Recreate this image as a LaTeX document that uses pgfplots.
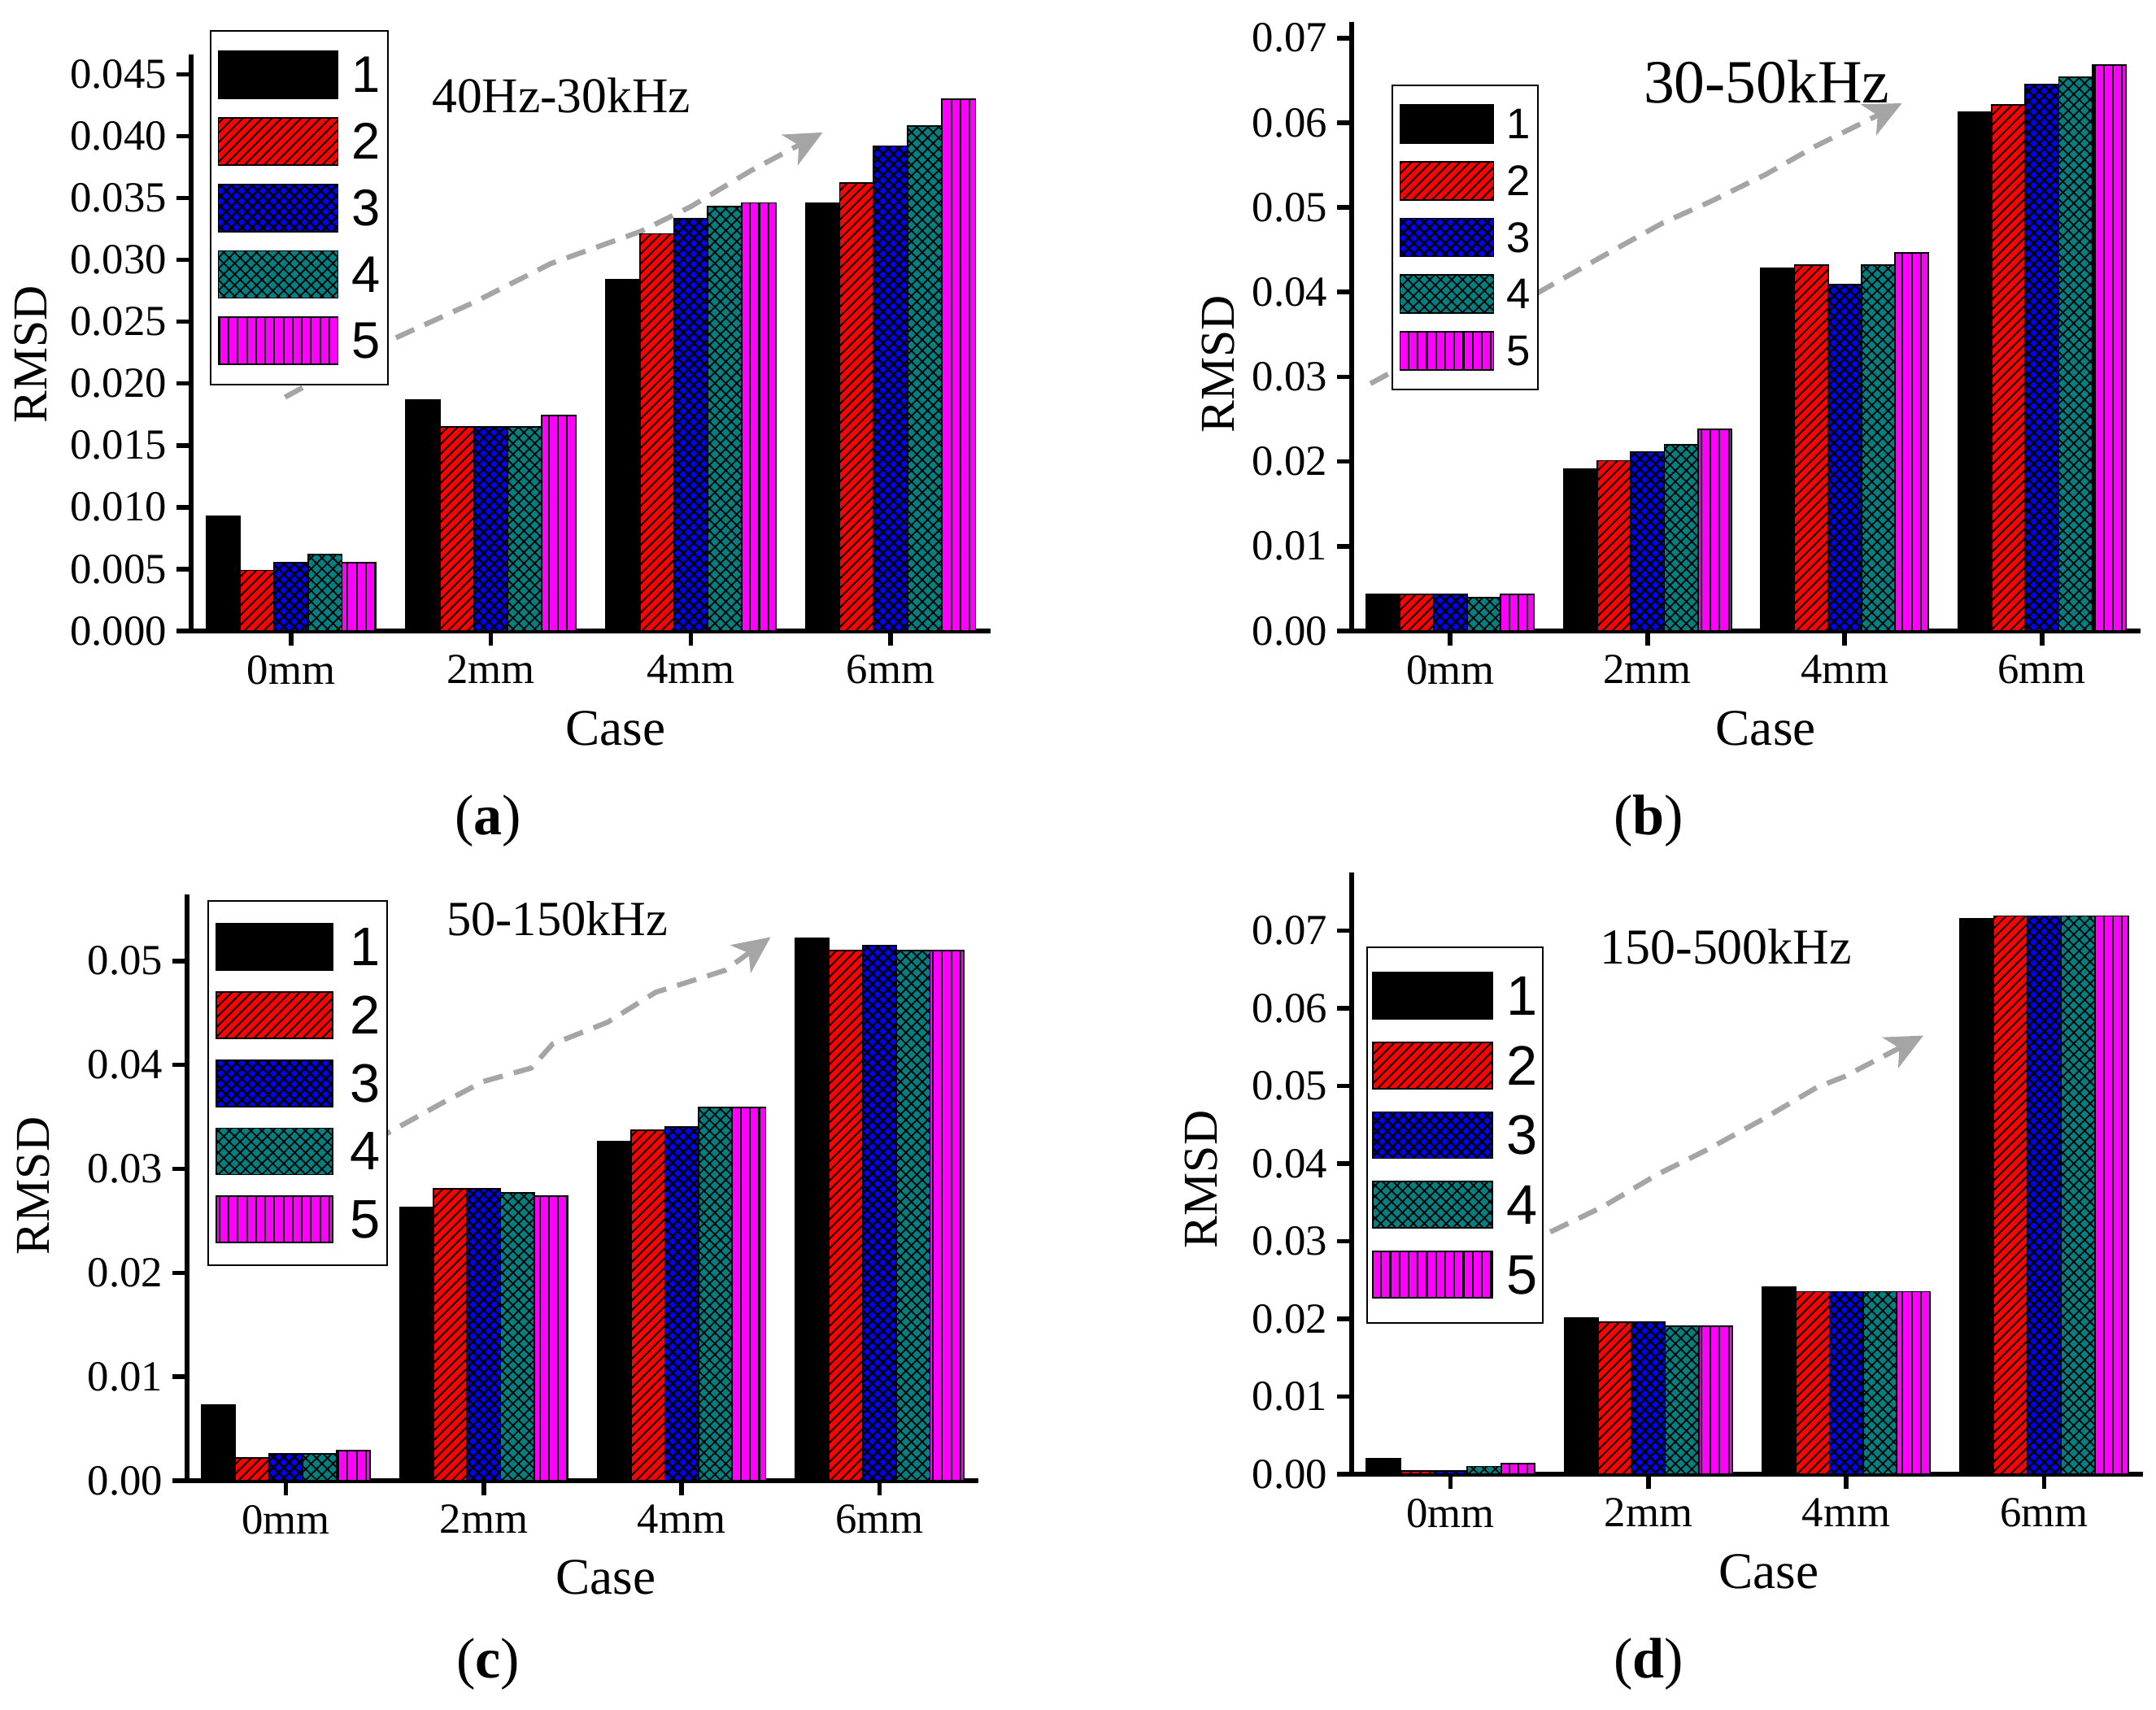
\documentclass[border=0pt]{standalone}
\usepackage{fontspec}
\setmainfont{Liberation Serif}
\newfontfamily\legfont{Liberation Sans}
\usepackage{pgfplots}
\pgfplotsset{compat=1.18}
\usepackage{pgfplotstable}
\usetikzlibrary{patterns.meta,arrows.meta}
\newcommand{\fs}[1]{\fontsize{#1}{#1}\selectfont}
\definecolor{teal4}{RGB}{0,128,128}
\definecolor{mag5}{RGB}{255,0,255}
\definecolor{red2}{RGB}{255,0,0}
\definecolor{blue3}{RGB}{0,0,255}
\definecolor{arrowgray}{RGB}{165,165,165}

\pgfplotstableread{
x s1 s2 s3 s4 s5
0 0.0093 0.0049 0.0055 0.0062 0.0055
1 0.0187 0.0165 0.0165 0.0165 0.0174
2 0.0284 0.0321 0.0333 0.0343 0.0346
3 0.0346 0.0362 0.0392 0.0408 0.0430
}\tabA
\pgfplotstableread{
x s1 s2 s3 s4 s5
0 0.0043 0.0043 0.0043 0.0039 0.0043
1 0.0191 0.0201 0.0211 0.0220 0.0238
2 0.0428 0.0432 0.0409 0.0432 0.0446
3 0.0613 0.0621 0.0645 0.0654 0.0668
}\tabB
\pgfplotstableread{
x s1 s2 s3 s4 s5
0 0.0073 0.0022 0.0026 0.0026 0.0029
1 0.0263 0.0281 0.0281 0.0277 0.0274
2 0.0326 0.0337 0.0340 0.0359 0.0359
3 0.0522 0.0510 0.0515 0.0510 0.0510
}\tabC
\pgfplotstableread{
x s1 s2 s3 s4 s5
0 0.0020 0.0004 0.0004 0.0010 0.0014
1 0.0201 0.0196 0.0196 0.0191 0.0191
2 0.0241 0.0235 0.0235 0.0235 0.0235
3 0.0715 0.0719 0.0719 0.0719 0.0719
}\tabD

\tikzset{
  trend/.style={arrowgray,line width=1.8pt,dash pattern=on 7pt off 4pt,
    -{Stealth[length=13pt,width=12pt,inset=3.5pt]}},
}
\pgfplotsset{
  rmsd/.style={
    scale only axis, ybar=0pt, bar width=0.17,
    xmin=-0.5, xmax=3.5, ymin=0, clip=false,
    axis lines=left, axis line style={line width=1.6pt,-},
    every tick/.style={line width=1.6pt,black},
    major tick length=5pt, tick align=outside,
    xtick={0,1,2,3}, xticklabels={0mm,2mm,4mm,6mm},
    ticklabel style={font=\fs{15}},
    scaled y ticks=false,
    /pgf/number format/assume math mode=true,
    yticklabel style={/pgf/number format/fixed,/pgf/number format/fixed zerofill},
    xlabel=Case, ylabel=RMSD,
    xlabel style={font=\fs{18},anchor=center},
    ylabel style={font=\fs{17},anchor=center},
    legend cell align=left,
  },
  s1/.style={fill=black,draw=black,line width=0.5pt},
  s2/.style={fill=red2,draw=black,line width=0.5pt,
    postaction={pattern={Lines[angle=45,distance=2.4pt,line width=0.55pt]}}},
  s3/.style={fill=blue3,draw=black,line width=0.5pt,
    postaction={pattern={Lines[angle=45,distance=2.6pt,line width=0.75pt]}},
    postaction={pattern={Lines[angle=-45,distance=2.6pt,line width=0.75pt]}}},
  s4/.style={fill=teal4,draw=black,line width=0.5pt,
    postaction={pattern={Lines[angle=45,distance=2.7pt,line width=0.5pt]}},
    postaction={pattern={Lines[angle=-45,distance=2.7pt,line width=0.5pt]}}},
  s5/.style={fill=mag5,draw=black,line width=0.5pt,
    postaction={pattern={Lines[angle=90,distance=3.2pt,line width=0.6pt]}}},
}

\begin{document}
\begin{tikzpicture}
\useasboundingbox (0,0) rectangle (26.51,21.02);

% (a)
\begin{axis}[rmsd, at={(2.35cm,13.26cm)}, anchor=south west,
  width=9.83cm, height=7.09cm, ymax=0.0466,
  ytick={0,0.005,...,0.045},
  yticklabel style={/pgf/number format/precision=3},
  xlabel style={at={(axis description cs:0.531,0)},yshift=-1.2cm},
  ylabel style={at={(axis description cs:-0.2004,0.48)}},
  legend image code/.code={\draw[#1] (0cm,-0.29cm) rectangle (1.47cm,0.29cm);},
  legend style={at={(0.023,1.042)},anchor=north west,draw=black,line width=0.6pt,fill=white,
    inner xsep=0.09cm,inner ysep=0.24cm,row sep=0.22cm,column sep=0.16cm,
    font=\legfont\fs{18},nodes={inner sep=0pt,text depth=0pt}},
]
\draw[trend] (axis cs:-0.03,0.0189) -- (axis cs:0.47,0.0233) -- (axis cs:0.92,0.0266) -- (axis cs:1.3,0.0297) -- (axis cs:1.75,0.0323) -- (axis cs:2.0,0.0343) -- (axis cs:2.3,0.0372) -- (axis cs:2.66,0.0403);
\addplot[s1] table[x=x,y=s1]{\tabA};
\addplot[s2] table[x=x,y=s2]{\tabA};
\addplot[s3] table[x=x,y=s3]{\tabA};
\addplot[s4] table[x=x,y=s4]{\tabA};
\addplot[s5] table[x=x,y=s5]{\tabA};
\legend{1,2,3,4,5}
\node[font=\fs{17.5}] at (rel axis cs:0.463,0.929) {40Hz-30kHz};
\end{axis}

% (b)
\begin{axis}[rmsd, at={(16.62cm,13.26cm)}, anchor=south west,
  width=9.70cm, height=7.49cm, ymax=0.0719,
  ytick={0,0.01,...,0.07},
  yticklabel style={/pgf/number format/precision=2},
  xlabel style={at={(axis description cs:0.525,0)},yshift=-1.2cm},
  ylabel style={at={(axis description cs:-0.169,0.438)}},
  legend image code/.code={\draw[#1] (0cm,-0.235cm) rectangle (1.15cm,0.235cm);},
  legend style={at={(0.05,0.897)},anchor=north west,draw=black,line width=0.6pt,fill=white,
    inner xsep=0.09cm,inner ysep=0.23cm,row sep=0.21cm,column sep=0.15cm,
    font=\legfont\fs{15},nodes={inner sep=0pt,text depth=0pt}},
]
\draw[trend] (axis cs:-0.405,0.0292) -- (axis cs:0.434,0.0398) -- (axis cs:0.80,0.0446) -- (axis cs:1.08,0.0482) -- (axis cs:1.32,0.0507) -- (axis cs:1.60,0.0539) -- (axis cs:1.85,0.0572) -- (axis cs:2.29,0.0623);
\addplot[s1] table[x=x,y=s1]{\tabB};
\addplot[s2] table[x=x,y=s2]{\tabB};
\addplot[s3] table[x=x,y=s3]{\tabB};
\addplot[s4] table[x=x,y=s4]{\tabB};
\addplot[s5] table[x=x,y=s5]{\tabB};
\legend{1,2,3,4,5}
\node[font=\fs{21.5}] at (rel axis cs:0.526,0.902) {30-50kHz};
\end{axis}

% (c)
\begin{axis}[rmsd, at={(2.30cm,2.81cm)}, anchor=south west,
  width=9.73cm, height=7.21cm, ymax=0.0564,
  ytick={0,0.01,...,0.05},
  yticklabel style={/pgf/number format/precision=2},
  xlabel style={at={(axis description cs:0.529,0)},yshift=-1.19cm},
  ylabel style={at={(axis description cs:-0.194,0.503)}},
  legend image code/.code={\draw[#1] (0cm,-0.285cm) rectangle (1.43cm,0.285cm);},
  legend style={at={(0.026,0.99)},anchor=north west,draw=black,line width=0.6pt,fill=white,
    inner xsep=0.09cm,inner ysep=0.27cm,row sep=0.25cm,column sep=0.2cm,
    font=\legfont\fs{19},nodes={inner sep=0pt,text depth=0pt}},
]
\draw[trend] (axis cs:0.3,0.0312) -- (axis cs:0.786,0.0363) -- (axis cs:0.997,0.0384) -- (axis cs:1.24,0.0397) -- (axis cs:1.347,0.0420) -- (axis cs:1.625,0.0441) -- (axis cs:1.87,0.0470) -- (axis cs:2.22,0.0491) -- (axis cs:2.45,0.0523);
\addplot[s1] table[x=x,y=s1]{\tabC};
\addplot[s2] table[x=x,y=s2]{\tabC};
\addplot[s3] table[x=x,y=s3]{\tabC};
\addplot[s4] table[x=x,y=s4]{\tabC};
\addplot[s5] table[x=x,y=s5]{\tabC};
\legend{1,2,3,4,5}
\node[font=\fs{17.2}] at (rel axis cs:0.468,0.958) {50-150kHz};
\end{axis}

% (d)
\begin{axis}[rmsd, at={(16.62cm,2.89cm)}, anchor=south west,
  width=9.73cm, height=7.40cm, ymax=0.0775,
  ytick={0,0.01,...,0.07},
  yticklabel style={/pgf/number format/precision=2},
  xlabel style={at={(axis description cs:0.527,0)},yshift=-1.2cm},
  ylabel style={at={(axis description cs:-0.190,0.49)}},
  legend image code/.code={\draw[#1] (0cm,-0.285cm) rectangle (1.47cm,0.285cm);},
  legend style={at={(0.0185,0.877)},anchor=north west,draw=black,line width=0.6pt,fill=white,
    inner xsep=0.06cm,inner ysep=0.30cm,row sep=0.27cm,column sep=0.17cm,
    font=\legfont\fs{19.5},nodes={inner sep=0pt,text depth=0pt}},
]
\draw[trend] (axis cs:0.504,0.0312) -- (axis cs:0.766,0.0344) -- (axis cs:1.045,0.0386) -- (axis cs:1.29,0.0417) -- (axis cs:1.57,0.0456) -- (axis cs:1.85,0.0498) -- (axis cs:1.99,0.0512) -- (axis cs:2.39,0.0565);
\addplot[s1] table[x=x,y=s1]{\tabD};
\addplot[s2] table[x=x,y=s2]{\tabD};
\addplot[s3] table[x=x,y=s3]{\tabD};
\addplot[s4] table[x=x,y=s4]{\tabD};
\addplot[s5] table[x=x,y=s5]{\tabD};
\legend{1,2,3,4,5}
\node[font=\fs{17.6}] at (rel axis cs:0.473,0.877) {150-500kHz};
\end{axis}

\node[font=\fs{20}] at (6.00,10.92) {(\textbf{a})};
\node[font=\fs{20}] at (20.27,10.92) {(\textbf{b})};
\node[font=\fs{20}] at (6.00,0.55) {(\textbf{c})};
\node[font=\fs{20}] at (20.27,0.55) {(\textbf{d})};
\end{tikzpicture}
\end{document}
